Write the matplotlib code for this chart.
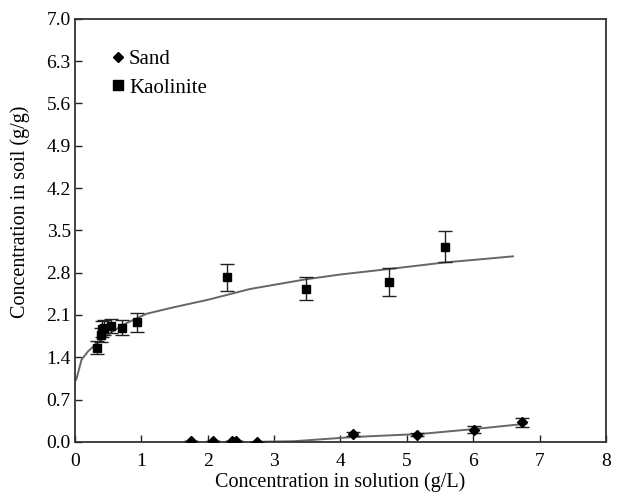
import numpy as np
import matplotlib.pyplot as plt
from matplotlib.lines import Line2D

plt.rcParams['font.family'] = ['Liberation Serif', 'DejaVu Serif']

# kaolinite measurements
kao_x = [0.34, 0.39, 0.41, 0.44, 0.54, 0.71, 0.93, 2.29, 3.48, 4.73, 5.58]
kao_y = [1.56, 1.77, 1.87, 1.89, 1.92, 1.89, 1.98, 2.72, 2.53, 2.64, 3.23]
kao_err = [0.11, 0.12, 0.13, 0.12, 0.12, 0.13, 0.16, 0.23, 0.19, 0.23, 0.26]

# sand measurements
sand_x = [1.75, 2.08, 2.36, 2.42, 2.74, 4.19, 5.15, 6.01, 6.74]
sand_y = [0.01, 0.02, 0.01, 0.01, 0.0, 0.13, 0.12, 0.2, 0.32]
sand_err = [0.0, 0.0, 0.0, 0.0, 0.0, 0.03, 0.03, 0.06, 0.08]

# fitted curves
kao_fit_x = [0.02, 0.05, 0.1, 0.2, 0.35, 0.53, 0.75, 1.08, 1.5, 2.0, 2.64, 3.48, 4.0, 4.73, 5.58, 6.1, 6.6]
kao_fit_y = [1.03, 1.15, 1.36, 1.5, 1.65, 1.8, 1.95, 2.12, 2.23, 2.35, 2.53, 2.69, 2.77, 2.86, 2.97, 3.02, 3.07]
sand_fit_x = [2.7, 3.3, 4.2, 5.2, 6.0, 6.8]
sand_fit_y = [0.0, 0.01, 0.08, 0.13, 0.21, 0.3]

fig = plt.figure(figsize=(6.19, 4.97), dpi=100)
ax = fig.add_axes([0.121, 0.111, 0.858, 0.851])

ax.plot(kao_fit_x, kao_fit_y, color='#666666', lw=1.4, zorder=2)
ax.plot(sand_fit_x, sand_fit_y, color='#666666', lw=1.4, zorder=2)

ax.errorbar(kao_x, kao_y, yerr=kao_err, fmt='s', color='black', ms=6,
            ecolor='#222222', elinewidth=1, capsize=5, capthick=1, zorder=3)
ax.errorbar(sand_x, sand_y, yerr=sand_err, fmt='D', color='black', ms=5,
            ecolor='#222222', elinewidth=1, capsize=5, capthick=1, zorder=3)

handles = [Line2D([], [], ls='none', marker='D', color='black', ms=5.5),
           Line2D([], [], ls='none', marker='s', color='black', ms=6.5)]
ax.legend(handles, ['Sand', 'Kaolinite'], loc='upper left', bbox_to_anchor=(0.053, 0.948),
          frameon=False, fontsize=15, handlelength=0.6, handletextpad=0.25,
          labelspacing=0.45, borderaxespad=0)

ax.set_xlim(0, 8)
ax.set_ylim(0, 7)
ax.set_xticks(range(9))
yt = np.arange(0, 7.01, 0.7)
ax.set_yticks(yt)
ax.set_yticklabels([f'{v:.1f}' for v in yt])
ax.tick_params(direction='in', labelsize=14, length=5, width=1,
               colors='#222222', labelcolor='black')
ax.tick_params(axis='x', pad=8)
ax.tick_params(axis='y', pad=3)
for s in ax.spines.values():
    s.set_linewidth(1.3)
    s.set_color('#333333')

ax.set_xlabel('Concentration in solution (g/L)', fontsize=14.5, labelpad=2)
ax.set_ylabel('Concentration in soil (g/g)', fontsize=14.5)
ax.yaxis.set_label_coords(-0.085, 0.545)

fig.savefig('out.png', dpi=100)
